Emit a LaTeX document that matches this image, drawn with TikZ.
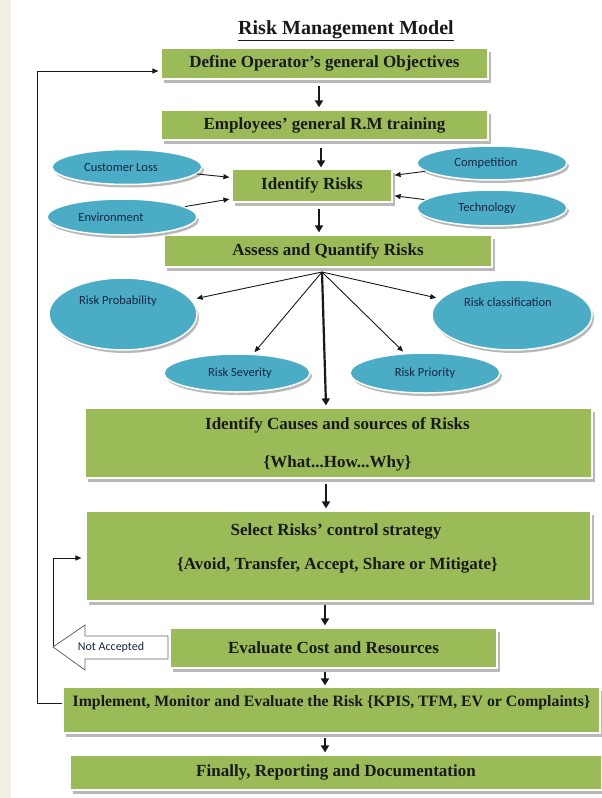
\documentclass[tikz,border=0pt]{standalone}
\usepackage{fontspec}
\setmainfont{Liberation Serif}
\newfontfamily\elfont{Carlito}
\usetikzlibrary{shapes.geometric,arrows.meta,shadows}
\definecolor{boxgreen}{RGB}{155,187,89}
\definecolor{elblue}{RGB}{75,172,198}
\definecolor{eltext}{RGB}{20,38,65}
\definecolor{beigestrip}{RGB}{241,238,228}
\definecolor{shade}{RGB}{185,185,185}
\begin{document}
\begin{tikzpicture}[x=1pt,y=-1pt,
  gbox/.style={rectangle, fill=boxgreen, draw=white, line width=1.2pt, inner sep=0pt,
    drop shadow={shadow xshift=3pt, shadow yshift=-4pt, fill=shade, opacity=1},
    font=\fontsize{17}{20}\selectfont\bfseries, text=black!90},
  btext/.style={font=\fontsize{17}{20}\selectfont\bfseries, text=black!90, inner sep=0pt},
  ell/.style={ellipse, fill=elblue, draw=white, line width=1.5pt, inner sep=0pt,
    drop shadow={shadow xshift=2pt, shadow yshift=-3pt, fill=shade, opacity=1},
    font=\elfont\fontsize{12.5}{14}\selectfont, text=eltext},
  etext/.style={font=\elfont\fontsize{12.5}{14}\selectfont, text=eltext, inner sep=0pt},
  mainarr/.style={line width=2.2pt, black!90, -{Triangle[width=8pt,length=7pt]}},
  thinarr/.style={line width=0.9pt, black!90, -{Triangle[width=5pt,length=6pt]}},
  loopline/.style={line width=1pt, black!90, -{Triangle[width=5pt,length=6pt]}}
]
\useasboundingbox (0,0) rectangle (602,798);
\fill[white] (0,0) rectangle (602,798);
\fill[beigestrip] (0,0) rectangle (11,798);

% title
\node[font=\fontsize{20}{24}\selectfont\bfseries, text=black!90] (title) at (346,31) {\underline{Risk Management Model}};

% boxes
\node[gbox, minimum width=327pt, minimum height=31pt] (box1) at (324.5,63.5) {Define Operator's general Objectives};
\node[gbox, minimum width=327pt, minimum height=30pt] (box2) at (324.5,125) {Employees' general R.M training};
\node[gbox, minimum width=160pt, minimum height=33pt] (idr) at (312,185.5) {Identify Risks};
\node[gbox, minimum width=328pt, minimum height=32pt] (assess) at (328,251) {Assess and Quantify Risks};
\node[gbox, minimum width=507pt, minimum height=70pt] (causes) at (338.5,443) {};
\node[btext] (causes1) at (337.5,425) {Identify Causes and sources of Risks};
\node[btext] (causes2) at (337.5,463) {\{What...How...Why\}};
\node[gbox, minimum width=505pt, minimum height=90pt] (select) at (338.5,556) {};
\node[btext] (select1) at (336,531) {Select Risks' control strategy};
\node[btext] (select2) at (337.5,565) {\{Avoid, Transfer, Accept, Share or Mitigate\}};
\node[gbox, minimum width=327pt, minimum height=40pt] (eval) at (333.5,648) {Evaluate Cost and Resources};
\node[gbox, minimum width=537pt, minimum height=46pt] (impl) at (331.5,710) {};
\node[btext, font=\fontsize{15.8}{18}\selectfont\bfseries] (implt) at (331.5,703) {Implement, Monitor and Evaluate the Risk \{KPIS, TFM, EV or Complaints\}};
\node[gbox, minimum width=532pt, minimum height=35pt] (finally) at (336,772.5) {Finally, Reporting and Documentation};

% ellipses
\node[ell, minimum width=150pt, minimum height=35pt] (custloss) at (127,167) {\hspace*{-12pt}Customer Loss};
\node[ell, minimum width=150pt, minimum height=36pt] (env) at (122,217) {\hspace*{-22pt}Environment};
\node[ell, minimum width=150pt, minimum height=34pt] (comp) at (492,163) {\hspace*{-12pt}Competition};
\node[ell, minimum width=150pt, minimum height=36pt] (tech) at (492,208) {\hspace*{-10pt}Technology};
\node[ell, minimum width=148pt, minimum height=72pt] (prob) at (123,314) {};
\node[etext] (probt) at (118,301) {Risk Probability};
\node[ell, minimum width=160pt, minimum height=70pt] (class) at (512,315) {};
\node[etext] (classt) at (508,302) {Risk classification};
\node[ell, minimum width=146pt, minimum height=38pt] (sev) at (237,373) {\hspace*{6pt}Risk Severity};
\node[ell, minimum width=150pt, minimum height=40pt] (prio) at (425,373) {Risk Priority};

% arrows into Identify Risks
\draw[thinarr, shorten >=2pt] (custloss) -- (idr);
\draw[thinarr, shorten >=2pt] (env) -- (idr);
\draw[thinarr, shorten >=2pt] (comp) -- (idr);
\draw[thinarr, shorten >=2pt] (tech) -- (idr);

% main vertical arrows
\draw[mainarr] ([shift={(-5.5pt,-6pt)}]box1.south) -- ([shift={(-5.5pt,2pt)}]box2.north);
\draw[mainarr] ([shift={(-3.5pt,-7pt)}]box2.south) -- ([shift={(9pt,1pt)}]idr.north);
\draw[mainarr] ([shift={(7pt,-6pt)}]idr.south) -- ([shift={(-9pt,2pt)}]assess.north);

% fan from Assess
\coordinate (fan) at (322,272);
\draw[thinarr, shorten >=5pt] (fan) -- (prob);
\draw[thinarr, shorten >=2pt] (fan) -- (sev);
\draw[thinarr, shorten >=4pt] (fan) -- (class);
\draw[thinarr, shorten >=2pt] (fan) -- (prio);
\draw[mainarr] (fan) -- ([shift={(-12.5pt,2pt)}]causes.north);

\draw[mainarr] ([shift={(-12.5pt,-5pt)}]causes.south) -- ([shift={(-12.5pt,2pt)}]select.north);
\draw[mainarr] ([shift={(-13.5pt,-3pt)}]select.south) -- ([shift={(-8.5pt,2pt)}]eval.north);
\draw[mainarr] ([shift={(-8.5pt,-3pt)}]eval.south) -- ([shift={(-6.5pt,1pt)}]impl.north);
\draw[mainarr] ([shift={(-6.5pt,-4pt)}]impl.south) -- ([shift={(-11pt,2pt)}]finally.north);

% not accepted loop
\coordinate (natip) at (53,647);
\draw[loopline] (natip) |- ([shift={(-4pt,-2pt)}]select.west);
\draw[fill=white, draw=black!60, line width=0.8pt] (natip) -- ++(32,-22) -- ++(0,11) -- ++(83,0) -- ++(0,23) -- ++(-83,0) -- ++(0,11) -- cycle;
\node[font=\elfont\fontsize{12}{14}\selectfont, text=eltext, inner sep=0pt] (natxt) at (111,647) {Not Accepted};

% outer loop
\draw[loopline, shorten >=2pt] ([yshift=7pt]impl.west) -- ++(-25pt,0) |- ([yshift=-7.5pt]box1.west);
\end{tikzpicture}
\end{document}
